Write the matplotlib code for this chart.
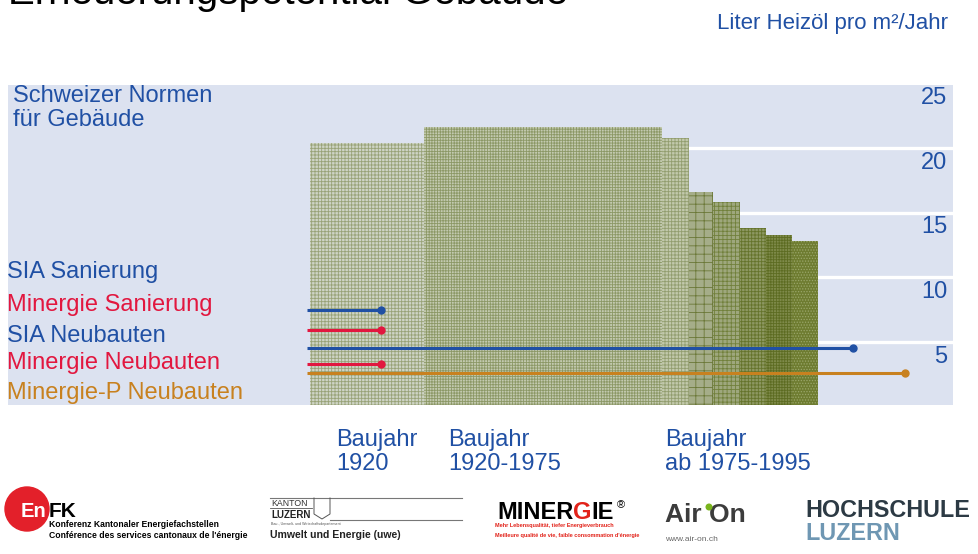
import matplotlib
matplotlib.use("Agg")
import matplotlib.pyplot as plt
from matplotlib.patches import Circle
from matplotlib.transforms import blended_transform_factory

plt.rcParams['font.family'] = ['Liberation Sans', 'DejaVu Sans']
plt.rcParams['hatch.linewidth'] = 0.6

W, H = 979, 554

# Heizwärmebedarf nach Baujahr (Liter Heizöl pro m2/Jahr), x = kumulierte Fläche (0..100)
bar_edges = [32.0, 44.0, 69.2, 72.1, 74.6, 77.5, 80.2, 83.0, 85.7]
bar_heights = [20.4, 21.6, 20.8, 16.6, 15.8, 13.8, 13.3, 12.8]

# Normen (Grenzwerte)
norm_names = ['SIA Sanierung', 'Minergie Sanierung', 'SIA Neubauten',
              'Minergie Neubauten', 'Minergie-P Neubauten']
norm_values = [7.5, 5.9, 4.5, 3.3, 2.6]
norm_start = [31.6, 31.6, 31.6, 31.6, 31.6]
norm_end = [39.5, 39.5, 89.4, 39.5, 94.9]

y_ticks = [5, 10, 15, 20, 25]
baujahr_labels = [('Baujahr', '1920'), ('Baujahr', '1920-1975'), ('Baujahr', 'ab 1975-1995')]

BLUE = '#2050a4'
RED = '#e2173f'
ORANGE = '#c8811f'
norm_colors = [BLUE, RED, BLUE, RED, ORANGE]

bar_faces = ['#ced4c6', '#c3cab0', '#c2c9ac', '#a5ad89', '#9ea77d', '#8d9862', '#7e8a4a', '#6e7c30']
bar_hatch_colors = ['#98a277', '#8c9866', '#929d6e', '#6b7838', '#71803b', '#65732b', '#5d6c22', '#9aa66a']
bar_hatches = ['+++++', '++++++', '+++++', '++', '++++', '+++++', '++++++', '......']

fig = plt.figure(figsize=(W / 100, H / 100), dpi=100)
ax = fig.add_axes([8 / W, 1 - 405 / H, 945 / W, 320 / H])
ax.set_facecolor('#dce2f0')
for s in ax.spines.values():
    s.set_visible(False)
ax.set_xticks([])
ax.set_yticks([])
ax.set_xlim(0, 100)
ax.set_ylim(0.13, 24.87)

ax.hlines(y_ticks[:-1], bar_edges[2], 100, colors='white', lw=2.4, zorder=1)

for i, h in enumerate(bar_heights):
    ax.bar(bar_edges[i], h, width=bar_edges[i + 1] - bar_edges[i], align='edge',
           color=bar_faces[i], edgecolor=bar_hatch_colors[i], linewidth=0,
           hatch=bar_hatches[i], zorder=2)

for v, x0, x1, c in zip(norm_values, norm_start, norm_end, norm_colors):
    ax.plot([x0, x1], [v, v], color=c, lw=2.2, zorder=3, solid_capstyle='butt')
    ax.plot([x1], [v], 'o', color=c, ms=5, zorder=3)

tr = blended_transform_factory(ax.transAxes, ax.transData)
for v in y_ticks:
    ax.text(0.994, v - 1.6, str(v), transform=tr, ha='right', va='baseline',
            fontsize=17, color=BLUE)

# overlay in pixel units for slide texts and logos
ov = fig.add_axes([0, 0, 1, 1])
ov.set_xlim(0, W)
ov.set_ylim(H, 0)
ov.axis('off')
ov.patch.set_alpha(0)

ov.text(8, 4.5, 'Erneuerungspotential Gebäude', fontsize=29, color='black', va='baseline')
ov.text(948, 29, 'Liter Heizöl pro m²/Jahr', fontsize=16, color=BLUE, ha='right', va='baseline')

ov.text(13, 101.5, 'Schweizer Normen', fontsize=17, color=BLUE, va='baseline')
ov.text(13, 126.5, 'für Gebäude', fontsize=17, color=BLUE, va='baseline')

label_baselines = [278, 311, 342, 369, 399]
for name, c, yb in zip(norm_names, norm_colors, label_baselines):
    ov.text(7, yb, name, fontsize=17, color=c, va='baseline')

for (l1, l2), x in zip(baujahr_labels, [336, 448, 665]):
    ov.text(x, 446, l1, fontsize=17, color=BLUE, va='baseline')
    ov.text(x, 470, l2, fontsize=17, color=BLUE, va='baseline')

# --- logos (text approximations) ---
ov.add_patch(Circle((27, 509), 22, color='#e3202a', zorder=1))
ov.text(21, 517, 'En', fontsize=14.5, fontweight='bold', color='white', va='baseline', zorder=2)
ov.text(49, 517, 'FK', fontsize=15, fontweight='bold', color='black', va='baseline', zorder=2)
ov.text(49, 527, 'Konferenz Kantonaler Energiefachstellen', fontsize=6.2,
        fontweight='bold', color='black', va='baseline')
ov.text(49, 538, "Conférence des services cantonaux de l'énergie", fontsize=6.2,
        fontweight='bold', color='black', va='baseline')

ov.plot([270, 462], [497.5, 497.5], color='#777777', lw=0.8)
ov.plot([330, 462], [520, 520], color='#777777', lw=0.8)
ov.plot([270, 312], [507.5, 507.5], color='#555555', lw=0.6)
ov.text(271, 506, 'KANTON', fontsize=6.3, color='#333333', va='baseline')
ov.text(271, 517.5, 'LUZERN', fontsize=7, fontweight='bold', color='#222222', va='baseline')
ov.plot([314, 314, 322, 330, 330], [498, 514, 519, 514, 498], color='#555555', lw=0.7)
ov.text(271, 524.5, 'Bau-, Umwelt- und Wirtschaftsdepartement', fontsize=2.6,
        color='#555555', va='baseline')
ov.text(270, 538, 'Umwelt und Energie (uwe)', fontsize=7.6, fontweight='bold',
        color='#222222', va='baseline')

# MINERGIE with red G: measure string widths to place the pieces
renderer = fig.canvas.get_renderer()
mfont = dict(fontsize=17, fontweight='bold', va='baseline')


def text_width(s):
    tt = ov.text(0, 0, s, **mfont)
    w = tt.get_window_extent(renderer).width
    tt.remove()
    return w


mx = 497
ov.text(mx, 519, 'MINER', color='black', **mfont)
ov.text(mx + text_width('MINERG') - text_width('G'), 519, 'G', color='#e2231a', **mfont)
ov.text(mx + text_width('MINERGIE') - text_width('IE'), 519, 'IE', color='black', **mfont)
ov.text(mx + text_width('MINERGIE') + 3, 508, '®', fontsize=8, color='black', va='baseline')
ov.text(495, 527.5, 'Mehr Lebensqualität, tiefer Energieverbrauch', fontsize=4.0,
        fontweight='bold', color='#e2231a', va='baseline')
ov.text(495, 536.5, "Meilleure qualité de vie, faible consommation d'énergie", fontsize=4.0,
        fontweight='bold', color='#e2231a', va='baseline')

ov.text(665, 522, 'Air On', fontsize=19, fontweight='bold', color='#3c3c3c', va='baseline')
ov.add_patch(Circle((709, 507), 2.8, color='#7ab51d', zorder=3))
ov.text(665, 541, 'www.air-on.ch', fontsize=6, color='#666666', va='baseline')

ov.text(805, 517, 'HOCHSCHULE', fontsize=16.8, fontweight='bold', color='#2c3a44', va='baseline')
ov.text(805, 540, 'LUZERN', fontsize=16.8, fontweight='bold', color='#6f97b3', va='baseline')

fig.savefig('out.png', dpi=100)
